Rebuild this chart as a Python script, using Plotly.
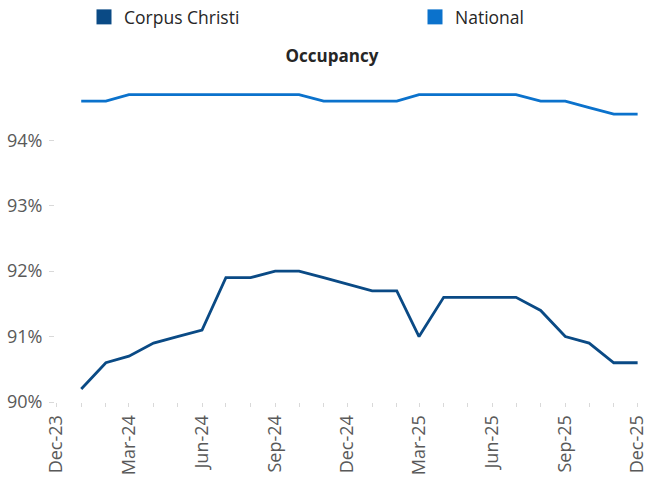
import plotly.graph_objects as go

months = [
    "2024-01-01", "2024-02-01", "2024-03-01", "2024-04-01", "2024-05-01", "2024-06-01",
    "2024-07-01", "2024-08-01", "2024-09-01", "2024-10-01", "2024-11-01", "2024-12-01",
    "2025-01-01", "2025-02-01", "2025-03-01", "2025-04-01", "2025-05-01", "2025-06-01",
    "2025-07-01", "2025-08-01", "2025-09-01", "2025-10-01", "2025-11-01", "2025-12-01",
]
corpus_christi = [90.2, 90.6, 90.7, 90.9, 91.0, 91.1, 91.9, 91.9, 92.0, 92.0, 91.9, 91.8,
                  91.7, 91.7, 91.0, 91.6, 91.6, 91.6, 91.6, 91.4, 91.0, 90.9, 90.6, 90.6]
national = [94.6, 94.6, 94.7, 94.7, 94.7, 94.7, 94.7, 94.7, 94.7, 94.7, 94.6, 94.6,
            94.6, 94.6, 94.7, 94.7, 94.7, 94.7, 94.7, 94.6, 94.6, 94.5, 94.4, 94.4]
y_ticks = [90, 91, 92, 93, 94]
y_tick_labels = ["90%", "91%", "92%", "93%", "94%"]

c_cc = "#0A4A85"
c_nat = "#0B72CC"
font_family = "Open Sans"

fig = go.Figure()
fig.add_trace(go.Scatter(x=months, y=corpus_christi, mode="lines", name="Corpus Christi",
                         line=dict(color=c_cc, width=2.8), showlegend=False))
fig.add_trace(go.Scatter(x=months, y=national, mode="lines", name="National",
                         line=dict(color=c_nat, width=2.8), showlegend=False))
# legend entries (square swatches)
fig.add_trace(go.Scatter(x=[None], y=[None], mode="markers", name="Corpus Christi",
                         marker=dict(symbol="square", size=15, color=c_cc), legend="legend"))
fig.add_trace(go.Scatter(x=[None], y=[None], mode="markers", name="National",
                         marker=dict(symbol="square", size=15, color=c_nat), legend="legend2"))

legend_common = dict(orientation="h", xref="container", yref="container",
                     xanchor="left", y=1 - 17 / 480, yanchor="middle",
                     font=dict(family=font_family, size=17.5, color="#262626"),
                     bgcolor="rgba(0,0,0,0)")

fig.update_layout(
    width=647, height=480,
    margin=dict(l=55, r=7, t=88, b=78),
    paper_bgcolor="white", plot_bgcolor="white",
    font=dict(family=font_family, size=17, color="#595959"),
    title=dict(text="<b>Occupancy</b>", x=332 / 647, xref="container", xanchor="center",
               y=1 - 56 / 480, yref="container", yanchor="middle",
               font=dict(family=font_family, size=17, color="#262626")),
    legend=dict(x=84 / 647, **legend_common),
    legend2=dict(x=415 / 647, **legend_common),
)
fig.update_xaxes(
    type="date", range=["2023-11-29", "2025-12-04"],
    tick0="2023-12-01", dtick="M3", tickformat="%b-%y", tickangle=-90,
    ticks="outside", ticklen=4, tickcolor="#D9D9D9", tickwidth=1,
    minor=dict(dtick="M1", tick0="2023-12-01", ticks="outside", ticklen=4,
               tickcolor="#D9D9D9", showgrid=False),
    showgrid=False, showline=False, zeroline=False, automargin=False,
    ticklabeloverflow="allow", ticklabelstandoff=1,
    tickfont=dict(family=font_family, size=18, color="#595959"),
)
fig.update_yaxes(
    range=[90, 94.8], tickvals=y_ticks, ticktext=y_tick_labels,
    ticks="outside", ticklen=5, tickcolor="#D9D9D9", tickwidth=1,
    ticklabelstandoff=3, automargin=False,
    showgrid=False, showline=False, zeroline=False,
    tickfont=dict(family=font_family, size=18, color="#595959"),
)

fig.write_html("out.html", config={"displayModeBar": False},
               post_script="document.body.style.margin='0';")
